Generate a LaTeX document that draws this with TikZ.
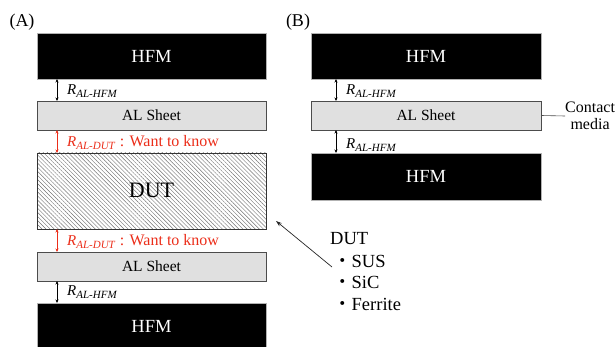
\documentclass[tikz,border=0pt]{standalone}
\usepackage{fontspec}
\setmainfont{Liberation Serif}
\newfontfamily\cjk{Noto Sans CJK JP}
\usetikzlibrary{patterns.meta,arrows.meta}
\definecolor{redlab}{RGB}{235,45,25}
\definecolor{alfill}{RGB}{224,224,224}
\newcommand{\Rlab}[1]{{\fontsize{15}{15}\selectfont\textit{R}}\raisebox{-0.3em}{\fontsize{11}{11}\selectfont\textit{#1}}}
\begin{document}
\begin{tikzpicture}[x=1pt,y=-1pt,
  hfmbox/.style={fill=black,draw=gray!60,line width=0.4pt,inner sep=0pt,outer sep=0pt,text=white,font=\fontsize{18.5}{18.5}\selectfont},
  albox/.style={fill=alfill,draw=black!70,line width=0.6pt,inner sep=0pt,outer sep=0pt,font=\fontsize{15.5}{15.5}\selectfont},
  dutbox/.style={draw=black!80,line width=0.6pt,inner sep=0pt,outer sep=0pt,
     pattern={Lines[angle=-45,distance=2.9pt,line width=0.45pt]},pattern color=black!55,font=\fontsize{22}{22}\selectfont},
  dimarrow/.style={{Stealth[length=3.5pt,width=3pt]}-{Stealth[length=3.5pt,width=3pt]},line width=0.6pt},
  lab/.style={anchor=base west,inner sep=0pt},
  panel/.style={font=\fontsize{18}{18}\selectfont,inner sep=0pt},
  listtxt/.style={anchor=base west,inner sep=0pt,font=\fontsize{18.5}{18.5}\selectfont}
]
\useasboundingbox (0,0) rectangle (616,347);
% Panel A
\node[panel] (pA) at (22,22) {(A)};
\node[hfmbox,minimum width=229pt,minimum height=46pt] (hfmA1) at (151.5,56) {HFM};
\node[albox,minimum width=229pt,minimum height=29pt] (alA1) at (151.5,115.5) {AL Sheet};
\node[dutbox,minimum width=229pt,minimum height=76pt] (dutA) at (151.5,191) {};
\node[font=\fontsize{22}{22}\selectfont,inner sep=1pt] (dutT) at (151.5,190) {DUT};
\node[albox,minimum width=229pt,minimum height=29pt] (alA2) at (151.5,266.5) {AL Sheet};
\node[hfmbox,minimum width=229pt,minimum height=46pt] (hfmA2) at (151.5,326) {HFM};
\coordinate (axA) at (57,0);
\draw[dimarrow] (hfmA1.south -| axA) -- (alA1.north -| axA);
\draw[dimarrow,redlab] (alA1.south -| axA) -- (dutA.north -| axA);
\draw[dimarrow,redlab] (dutA.south -| axA) -- (alA2.north -| axA);
\draw[dimarrow] (alA2.south -| axA) -- (hfmA2.north -| axA);
\node[lab] (lA1) at (67,95) {\Rlab{AL-HFM}};
\node[lab,text=redlab] (lA2) at (67,147) {\Rlab{AL-DUT}\,{\fontsize{16}{16}\selectfont\,: Want to know}};
\node[lab,text=redlab] (lA3) at (67,246) {\Rlab{AL-DUT}\,{\fontsize{16}{16}\selectfont\,: Want to know}};
\node[lab] (lA4) at (67,296) {\Rlab{AL-HFM}};
% Panel B
\node[panel] (pB) at (298,22) {(B)};
\node[hfmbox,minimum width=230pt,minimum height=46pt] (hfmB1) at (426,56) {HFM};
\node[albox,minimum width=230pt,minimum height=29pt] (alB) at (426,115.5) {AL Sheet};
\node[hfmbox,minimum width=230pt,minimum height=47pt] (hfmB2) at (426,176.5) {HFM};
\coordinate (axB) at (336,0);
\draw[dimarrow] (hfmB1.south -| axB) -- (alB.north -| axB);
\draw[dimarrow] (alB.south -| axB) -- (hfmB2.north -| axB);
\node[lab] (lB1) at (346,95) {\Rlab{AL-HFM}};
\node[lab] (lB2) at (346,149) {\Rlab{AL-HFM}};
\node[anchor=west,inner sep=0pt,align=center,font=\fontsize{16}{17}\selectfont] (cm) at (565,116) {Contact\\media};
\draw[black!70,line width=0.6pt] (alB.east) -- (cm.west);
% DUT list
\node[listtxt] (dl) at (330,245) {DUT};
\node[listtxt] (d1) at (333,268) {{\cjk ・}SUS};
\node[listtxt] (d2) at (333,289) {{\cjk ・}SiC};
\node[listtxt] (d3) at (333,311) {{\cjk ・}Ferrite};
\coordinate (tail) at (332,267);
\coordinate (tip) at (276,221);
\draw[-{Stealth[length=6pt,width=4pt]},line width=0.7pt,black!85] (tail) -- (tip);
\end{tikzpicture}
\end{document}
